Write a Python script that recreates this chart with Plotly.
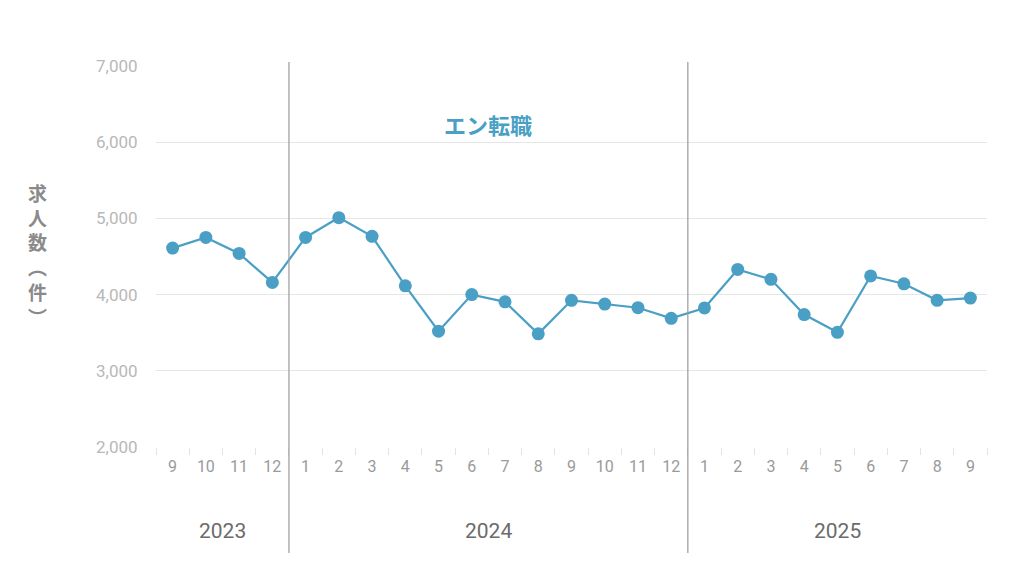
import plotly.graph_objects as go

periods = ["2023-09", "2023-10", "2023-11", "2023-12",
           "2024-01", "2024-02", "2024-03", "2024-04", "2024-05", "2024-06",
           "2024-07", "2024-08", "2024-09", "2024-10", "2024-11", "2024-12",
           "2025-01", "2025-02", "2025-03", "2025-04", "2025-05", "2025-06",
           "2025-07", "2025-08", "2025-09"]
month_labels = ["9", "10", "11", "12",
                "1", "2", "3", "4", "5", "6", "7", "8", "9", "10", "11", "12",
                "1", "2", "3", "4", "5", "6", "7", "8", "9"]
job_counts = [4610, 4750, 4540, 4160,
              4750, 5010, 4765, 4115, 3520, 4000, 3905, 3485, 3925, 3875, 3828, 3688,
              3825, 4330, 4200, 3738, 3505, 4245, 4142, 3925, 3955]
years = ["2023", "2024", "2025"]
year_centers = [1.5, 9.5, 20]
year_boundaries = [3.5, 15.5]
series_name = "エン転職"
y_title_chars = ["求", "人", "数", "︵", "件", "︶"]
y_ticks = [2000, 3000, 4000, 5000, 6000, 7000]

LINE_COLOR = "#4a9fc5"
FONT = "Roboto, 'Noto Sans CJK JP', sans-serif"

fig = go.Figure()
fig.add_trace(go.Scatter(
    x=periods, y=job_counts, mode="lines+markers",
    line=dict(color=LINE_COLOR, width=2.2),
    marker=dict(color=LINE_COLOR, size=13),
    name=series_name, showlegend=False,
))

for xb in year_boundaries:
    fig.add_shape(type="line", xref="x", yref="paper", x0=xb, x1=xb,
                  y0=-0.278, y1=1.0105, line=dict(color="#9a9a9a", width=1.2))

for yr, xc in zip(years, year_centers):
    fig.add_annotation(text=yr, x=xc, xref="x", y=-0.22, yref="paper",
                       showarrow=False, yanchor="middle",
                       font=dict(family=FONT, size=21, color="#6b6b6b"))

fig.add_annotation(text="<b>" + series_name + "</b>", x=9.5, xref="x",
                   y=0.848, yref="paper", showarrow=False, yanchor="middle",
                   font=dict(family="'Noto Sans CJK JP', sans-serif", size=22, color=LINE_COLOR))

fig.add_annotation(text="<b>" + "<br>".join(y_title_chars) + "</b>",
                   x=-0.142, xref="paper", y=0.505, yref="paper",
                   showarrow=False, xanchor="center", yanchor="middle",
                   font=dict(family="'Noto Sans CJK JP', sans-serif", size=19, color="#8a8a8a"))

fig.update_xaxes(
    type="category", tickvals=periods, ticktext=month_labels,
    tickson="boundaries", ticks="outside", ticklen=7, tickcolor="#e3e3e3",
    ticklabelstandoff=8,
    showgrid=False, showline=False, zeroline=False,
    tickfont=dict(family=FONT, size=16, color="#9a9a9a"),
    range=[-0.5, 24.5],
)
fig.update_yaxes(
    range=[2000, 7000], tickvals=y_ticks, tickformat=",",
    showgrid=True, gridcolor="#e6e6e6", gridwidth=1,
    zeroline=False, showline=False,
    ticks="outside", ticklen=14, tickcolor="rgba(0,0,0,0)",
    tickfont=dict(family=FONT, size=17, color="#b8b8b8"),
)

# page body has an 8px margin: compensate so the plot area sits where the reference has it
fig.update_layout(
    width=1024, height=575,
    margin=dict(l=148, r=45, t=58, b=136),
    plot_bgcolor="white", paper_bgcolor="white",
)

fig.write_html("out.html")
